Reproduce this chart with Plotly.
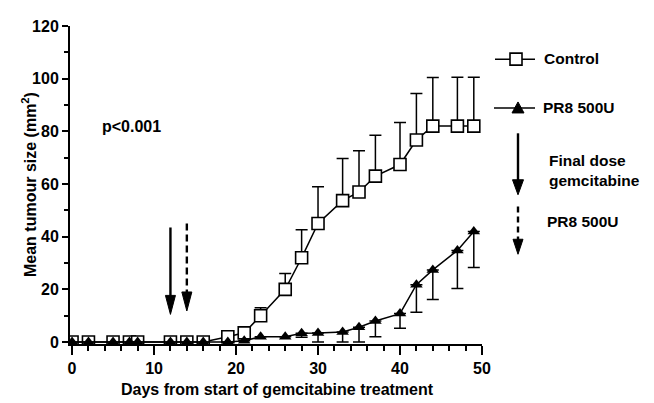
import plotly.graph_objects as go

# ---- data ----
control_days = [0, 2, 5, 7, 8, 12, 14, 16, 19, 21, 23, 26, 28, 30, 33, 35, 37, 40, 42, 44, 47, 49]
control_mean = [0, 0, 0, 0, 0, 0, 0, 0, 2, 3.5, 10, 20, 32, 45, 53.7, 57, 63, 67.4, 76.7, 82, 82, 82]
control_err = [0, 0, 0, 0, 0, 0, 0, 0, 0.8, 1.2, 3, 6, 10.6, 14, 16, 15.6, 15.5, 16, 17.7, 18.4, 18.5, 18.5]

pr8_days = [0, 2, 5, 7, 8, 12, 14, 16, 19, 21, 23, 26, 28, 30, 33, 35, 37, 40, 42, 44, 47, 49]
pr8_mean = [0, 0, 0, 0, 0, 0, 0, 0, 0, 0.5, 2, 2, 3.3, 3.4, 3.8, 5.6, 8, 10.8, 21.8, 27.4, 34.8, 42]
pr8_err = [0, 0, 0, 0, 0, 0, 0, 0, 0, 0, 0, 0, 1.5, 3.4, 3.8, 5.6, 6, 5.6, 10.5, 11.2, 14.5, 13.7]

x_ticks = [0, 10, 20, 30, 40, 50]
y_ticks = [0, 20, 40, 60, 80, 100, 120]

gem_final_day = 12
pr8_dose_day = 14
arrow_top = 43.5
arrow_tip = 10.5

FONT = "Liberation Sans, Arial, sans-serif"
FS = 16
FSL = 15.5

# page body has an 8px margin; compensate so the figure lands where the reference is
OFF = 8
FIG_W, FIG_H = 654 - OFF, 403 - OFF
L, W, T, H = 70 - OFF, 412, 18 - OFF, 326


def px(x):
    return (x - OFF - L) / W


def py(y):
    return (T + H - (y - OFF)) / H


fig = go.Figure()

fig.add_trace(go.Scatter(
    x=control_days, y=control_mean, mode="lines+markers", name="Control",
    line=dict(color="black", width=1.5),
    marker=dict(symbol="square", size=12, color="white", line=dict(color="black", width=1.6)),
    error_y=dict(type="data", symmetric=False, array=control_err,
                 arrayminus=[0] * len(control_err), color="black", thickness=1.5, width=6),
))
fig.add_trace(go.Scatter(
    x=pr8_days, y=pr8_mean, mode="lines+markers", name="PR8 500U",
    line=dict(color="black", width=1.5),
    marker=dict(symbol="triangle-up", size=11, color="black"),
    error_y=dict(type="data", symmetric=False, array=[0] * len(pr8_err),
                 arrayminus=pr8_err, color="black", thickness=1.5, width=6),
))

HEAD = "M -5 19 L 5 19 L 0 0 Z"

# --- in-plot arrows ---
fig.add_shape(type="line", x0=gem_final_day, x1=gem_final_day, y0=arrow_top, y1=arrow_tip + 5,
              xref="x", yref="y", line=dict(color="black", width=2.4))
fig.add_shape(type="path", xref="x", yref="y", xsizemode="pixel", ysizemode="pixel",
              xanchor=gem_final_day, yanchor=arrow_tip, path=HEAD,
              fillcolor="black", line=dict(color="black", width=1))
fig.add_shape(type="line", x0=pr8_dose_day, x1=pr8_dose_day, y0=arrow_top + 1.5, y1=arrow_tip + 7,
              xref="x", yref="y", line=dict(color="black", width=2.4, dash="7px,4px"))
fig.add_shape(type="path", xref="x", yref="y", xsizemode="pixel", ysizemode="pixel",
              xanchor=pr8_dose_day, yanchor=arrow_tip + 1.3, path=HEAD,
              fillcolor="black", line=dict(color="black", width=1))

fig.add_annotation(x=3.4, y=82, xref="x", yref="y", text="<b>p&lt;0.001</b>", showarrow=False,
                   xanchor="left", yanchor="middle", font=dict(size=FS, color="black", family=FONT))

# --- custom legend (paper coordinates) ---
# Control entry
fig.add_shape(type="line", xref="paper", yref="paper", x0=px(495), x1=px(535), y0=py(52), y1=py(52),
              line=dict(color="black", width=1.5))
fig.add_shape(type="rect", xref="paper", yref="paper", xsizemode="pixel", ysizemode="pixel",
              xanchor=px(516), yanchor=py(52), x0=-6, x1=6, y0=-6, y1=6,
              fillcolor="white", line=dict(color="black", width=1.6))
fig.add_annotation(x=px(542), y=py(51), xref="paper", yref="paper", text="<b>Control</b>",
                   showarrow=False, xanchor="left", yanchor="middle",
                   font=dict(size=FSL, color="black", family=FONT))
# PR8 entry
fig.add_shape(type="line", xref="paper", yref="paper", x0=px(494), x1=px(535), y0=py(102), y1=py(102),
              line=dict(color="black", width=1.5))
fig.add_shape(type="path", xref="paper", yref="paper", xsizemode="pixel", ysizemode="pixel",
              xanchor=px(518), yanchor=py(102), path="M -6 -5 L 6 -5 L 0 6 Z",
              fillcolor="black", line=dict(color="black", width=1))
fig.add_annotation(x=px(541), y=py(102), xref="paper", yref="paper", text="<b>PR8 500U</b>",
                   showarrow=False, xanchor="left", yanchor="middle",
                   font=dict(size=FSL, color="black", family=FONT))
# Final dose arrow
fig.add_shape(type="line", xref="paper", yref="paper", x0=px(518), x1=px(518), y0=py(128), y1=py(178),
              line=dict(color="black", width=2.4))
fig.add_shape(type="path", xref="paper", yref="paper", xsizemode="pixel", ysizemode="pixel",
              xanchor=px(518), yanchor=py(191), path="M -5.5 15 L 5.5 15 L 0 0 Z",
              fillcolor="black", line=dict(color="black", width=1))
fig.add_annotation(x=px(547), y=py(166), xref="paper", yref="paper",
                   text="<b>Final dose<br>gemcitabine</b>", showarrow=False, align="left",
                   xanchor="left", yanchor="middle",
                   font=dict(size=FSL, color="black", family=FONT))
# PR8 dose dashed arrow
fig.add_shape(type="line", xref="paper", yref="paper", x0=px(518), x1=px(518), y0=py(203), y1=py(240),
              line=dict(color="black", width=2.4, dash="6px,4px"))
fig.add_shape(type="path", xref="paper", yref="paper", xsizemode="pixel", ysizemode="pixel",
              xanchor=px(518), yanchor=py(252), path="M -5 15 L 5 15 L 0 0 Z",
              fillcolor="black", line=dict(color="black", width=1))
fig.add_annotation(x=px(545), y=py(218), xref="paper", yref="paper", text="<b>PR8 500U</b>",
                   showarrow=False, xanchor="left", yanchor="middle",
                   font=dict(size=FSL, color="black", family=FONT))

# axis titles
fig.add_annotation(x=px(277), y=py(391), xref="paper", yref="paper",
                   text="<b>Days from start of gemcitabine treatment</b>", showarrow=False,
                   xanchor="center", yanchor="middle", font=dict(size=FS, color="black", family=FONT))
fig.add_annotation(x=px(29), y=py(181), xref="paper", yref="paper", textangle=-90,
                   text="<b>Mean tumour size (mm<sup>2</sup>)</b>", showarrow=False,
                   xanchor="center", yanchor="middle", font=dict(size=FS, color="black", family=FONT))

fig.update_layout(
    width=FIG_W, height=FIG_H,
    margin=dict(l=L, r=FIG_W - L - W, t=T, b=FIG_H - T - H),
    plot_bgcolor="white", paper_bgcolor="white",
    showlegend=False,
    font=dict(family=FONT, size=FS, color="black"),
)
fig.update_xaxes(
    range=[-0.25, 50], tickvals=x_ticks, ticktext=[f"<b>{v}</b>" for v in x_ticks],
    showgrid=False, zeroline=False, showline=True, linecolor="black", linewidth=2,
    ticks="outside", ticklen=9, tickwidth=2, tickcolor="black",
    minor=dict(dtick=2, tick0=0, ticks="outside", ticklen=5, tickwidth=1.5, tickcolor="black"),
    tickfont=dict(size=FS),
)
fig.update_yaxes(
    range=[-0.74, 120], tickvals=y_ticks, ticktext=[f"<b>{v}</b>" for v in y_ticks],
    showgrid=False, zeroline=False, showline=True, linecolor="black", linewidth=2,
    ticks="outside", ticklen=6, tickwidth=2, tickcolor="black",
    minor=dict(dtick=10, tick0=0, ticks="outside", ticklen=4, tickwidth=1.5, tickcolor="black"),
    tickfont=dict(size=FS),
)

fig.write_html("out.html")
